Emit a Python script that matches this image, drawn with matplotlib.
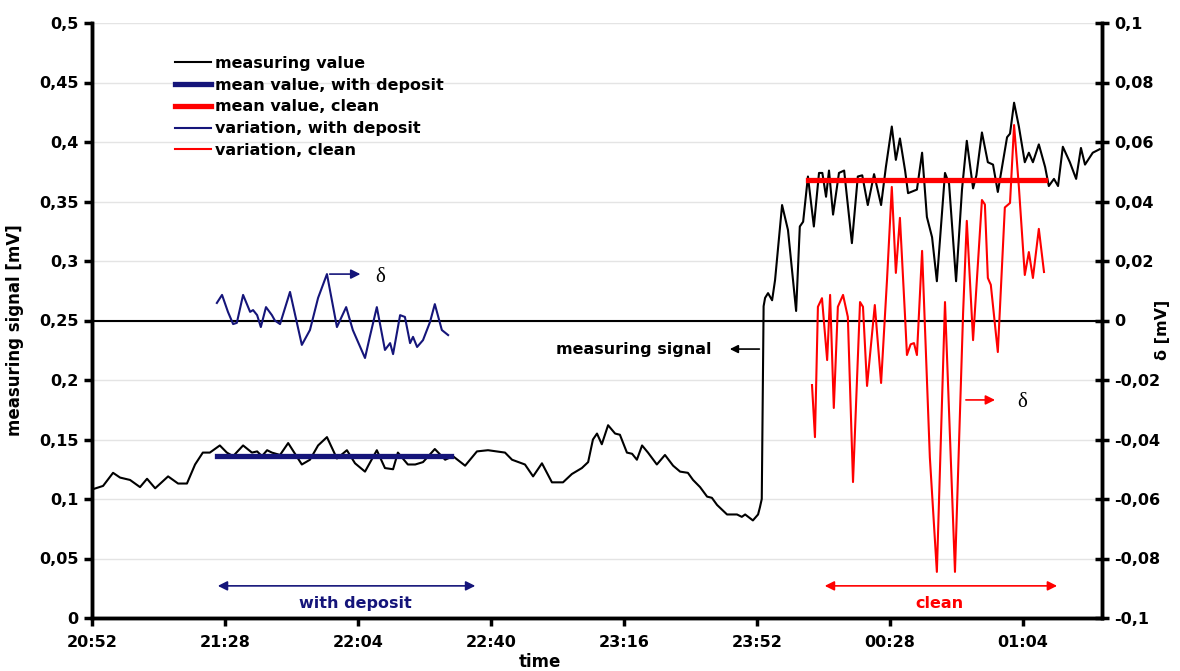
import matplotlib
matplotlib.use("Agg")
import matplotlib.pyplot as plt

plt.rcParams['font.family'] = ['DejaVu Sans']
plt.rcParams['font.weight'] = 'bold'

# === Data (time in minutes after 20:52) ===
t_meas = [0, 3.0, 5.7, 7.6, 10.3, 13.0, 14.9, 17.1, 20.6, 23.3, 25.7, 27.9, 30.0, 31.9,
          34.6, 36.5, 38.2, 40.9, 43.3, 44.7, 46.0, 47.4, 48.7, 50.9, 53.1, 56.8, 59.0,
          61.2, 63.6, 66.3, 69.0, 71.2, 73.9, 77.1, 79.3, 81.5, 82.8, 85.5, 87.5, 89.6,
          92.8, 95.6, 97.7, 101.0, 104.2, 107.2, 111.8, 113.7, 117.2, 119.4, 121.8,
          124.5, 127.5, 129.9, 132.6, 134.3, 135.6, 136.7, 138.0, 139.7, 141.6, 142.9,
          144.8, 146.2, 147.5, 148.9, 150.5, 152.9, 155.1, 157.3, 159.2, 161.3, 162.7,
          164.6, 166.5, 167.8, 169.2, 171.9, 174.6, 175.9, 176.8, 178.9, 180.3, 180.8,
          181.3, 181.8, 182.2, 183.0, 184.1, 184.9, 186.8, 188.4, 190.6, 191.6, 192.5,
          193.8, 195.4, 196.8, 197.7, 198.7, 199.5, 200.6, 202.2, 203.6, 205.7, 207.3,
          208.5, 210.0, 211.7, 213.6, 214.9, 216.5, 217.6, 218.7, 220.1, 220.9, 223.3,
          224.7, 226.0, 227.4, 228.7, 230.9, 232.0, 233.9, 235.5, 236.8, 238.5, 239.4,
          240.9, 242.5, 243.9, 245.2, 247.7, 248.5, 249.6, 250.9, 252.5, 253.6, 254.7,
          256.3, 258.0, 259.0, 260.4, 261.5, 262.8, 264.7, 266.4, 267.7, 268.8, 270.9,
          272.8]
v_meas = [0.108, 0.111, 0.122, 0.118, 0.116, 0.110, 0.117, 0.109, 0.119, 0.113, 0.113,
          0.129, 0.139, 0.139, 0.145, 0.139, 0.136, 0.145, 0.139, 0.140, 0.136, 0.141,
          0.139, 0.137, 0.147, 0.129, 0.133, 0.145, 0.152, 0.134, 0.141, 0.130, 0.123,
          0.141, 0.126, 0.125, 0.139, 0.129, 0.129, 0.131, 0.142, 0.133, 0.136, 0.128,
          0.140, 0.141, 0.139, 0.133, 0.129, 0.119, 0.130, 0.114, 0.114, 0.121, 0.126,
          0.131, 0.150, 0.155, 0.146, 0.162, 0.155, 0.154, 0.139, 0.138, 0.133, 0.145,
          0.139, 0.129, 0.137, 0.128, 0.123, 0.122, 0.116, 0.110, 0.102, 0.101, 0.095,
          0.087, 0.087, 0.085, 0.087, 0.082, 0.087, 0.093, 0.100, 0.262, 0.269, 0.273,
          0.267, 0.284, 0.347, 0.326, 0.258, 0.329, 0.333, 0.371, 0.329, 0.374, 0.374,
          0.354, 0.376, 0.339, 0.374, 0.376, 0.315, 0.371, 0.372, 0.347, 0.373, 0.347,
          0.379, 0.413, 0.385, 0.403, 0.376, 0.357, 0.360, 0.391, 0.337, 0.320, 0.283,
          0.374, 0.365, 0.283, 0.360, 0.401, 0.361, 0.372, 0.408, 0.383, 0.381, 0.358,
          0.404, 0.407, 0.433, 0.413, 0.383, 0.391, 0.383, 0.398, 0.379, 0.363, 0.369,
          0.363, 0.396, 0.383, 0.369, 0.395, 0.381, 0.391, 0.394]

t_var_dep = [33.8, 35.2, 36.8, 38.2, 39.2, 40.9, 42.8, 43.6, 44.7, 45.7, 47.1, 48.7,
             49.5, 50.9, 53.6, 56.8, 59.0, 61.2, 63.6, 66.3, 68.8, 70.6, 73.9, 75.2,
             77.1, 79.3, 80.7, 81.5, 83.4, 84.7, 86.1, 86.9, 88.0, 89.6, 91.5, 92.8,
             94.7, 96.4]
d_var_dep = [0.0059, 0.0086, 0.0029, -0.0012, -0.0008, 0.0086, 0.0029, 0.0035, 0.0018,
             -0.0022, 0.0045, 0.0018, 0.0, -0.0012, 0.0096, -0.0082, -0.0032, 0.0076,
             0.0156, -0.0022, 0.0045, -0.0032, -0.0126, -0.0055, 0.0045, -0.0099,
             -0.0076, -0.0113, 0.0018, 0.0012, -0.0076, -0.0055, -0.0089, -0.0066,
             -0.0005, 0.0055, -0.0032, -0.0049]

t_var_clean = [194.9, 195.7, 196.5, 197.6, 199.0, 199.8, 200.8, 201.9, 203.3, 204.6,
               206.0, 207.9, 208.7, 209.8, 211.9, 213.6, 215.2, 216.5, 217.6, 218.7,
               220.1, 220.6, 221.6, 222.5, 223.3, 224.7, 226.8, 228.7, 230.9, 233.6,
               235.8, 236.8, 238.5, 240.9, 241.7, 242.5, 243.3, 245.2, 247.1, 248.5,
               249.6, 250.9, 252.5, 253.6, 254.7, 256.3, 257.7]
d_var_clean = [-0.0217, -0.0392, 0.0046, 0.0075, -0.0133, 0.0086, -0.0294, 0.0046,
               0.0086, 0.0012, -0.0543, 0.0062, 0.0046, -0.022, 0.0052, -0.021, 0.0136,
               0.0449, 0.016, 0.0345, 0.001, -0.0116, -0.008, -0.0076, -0.0116, 0.0234,
               -0.046, -0.0845, 0.0062, -0.0845, 0.0025, 0.0335, -0.0066, 0.0405, 0.039,
               0.0143, 0.012, -0.0106, 0.038, 0.0395, 0.0657, 0.0449, 0.0153, 0.023,
               0.0143, 0.0308, 0.0163]

mean_dep_span = [33.8, 97.2]
mean_dep = 0.1365
mean_clean_span = [193.8, 258.0]
mean_clean = 0.368

xtick_pos = [0, 36, 72, 108, 144, 180, 216, 252]
xtick_labels = ["20:52", "21:28", "22:04", "22:40", "23:16", "23:52", "00:28", "01:04"]
left_ticks = [0, 0.05, 0.1, 0.15, 0.2, 0.25, 0.3, 0.35, 0.4, 0.45, 0.5]
left_labels = ["0", "0,05", "0,1", "0,15", "0,2", "0,25", "0,3", "0,35", "0,4", "0,45", "0,5"]
right_ticks = [-0.1, -0.08, -0.06, -0.04, -0.02, 0, 0.02, 0.04, 0.06, 0.08, 0.1]
right_labels = ["-0,1", "-0,08", "-0,06", "-0,04", "-0,02", "0", "0,02", "0,04", "0,06", "0,08", "0,1"]

navy = "#15157a"
red = "#ff0000"
fs = 11.5

# === Plotting ===
fig = plt.figure(figsize=(11.8, 6.71), dpi=100)
ax = fig.add_axes([92 / 1180, 53 / 671, 1010 / 1180, 595 / 671])
ax2 = ax.twinx()

for y in left_ticks[1:]:
    ax.axhline(y, color="#e4e4e4", lw=1, zorder=0)
ax.axhline(0.25, color="black", lw=1.5, zorder=1)

l_meas, = ax.plot(t_meas, v_meas, color="black", lw=1.5, zorder=3)
l_mdep, = ax.plot(mean_dep_span, [mean_dep] * 2, color=navy, lw=3.8, zorder=4)
l_mcl, = ax.plot(mean_clean_span, [mean_clean] * 2, color=red, lw=3.8, zorder=4)
l_vdep, = ax2.plot(t_var_dep, d_var_dep, color=navy, lw=1.5)
l_vcl, = ax2.plot(t_var_clean, d_var_clean, color=red, lw=1.5)

ax.set_xlim(0, 273.4)
ax.set_ylim(0, 0.5)
ax2.set_ylim(-0.1, 0.1)

ax.set_xticks(xtick_pos)
ax.set_xticklabels(xtick_labels)
ax.set_yticks(left_ticks)
ax.set_yticklabels(left_labels)
ax2.set_yticks(right_ticks)
ax2.set_yticklabels(right_labels)

for a in (ax, ax2):
    a.spines["top"].set_visible(False)
    for s in ("left", "right", "bottom"):
        a.spines[s].set_linewidth(2.5)
ax.tick_params(axis="both", labelsize=fs, width=2.5, length=6, direction="out")
ax.tick_params(axis="x", pad=6)
ax2.tick_params(axis="y", labelsize=fs, width=2.5, length=10, direction="inout", pad=4)
for lab in ax.get_xticklabels() + ax.get_yticklabels() + ax2.get_yticklabels():
    lab.set_fontweight("bold")

fig.text(15 / 1180, 1 - 330 / 671, "measuring signal [mV]", rotation=90,
         ha="center", va="center", fontsize=12, fontweight="bold")
fig.text(1163 / 1180, 1 - 330 / 671, "δ [mV]", rotation=90,
         ha="center", va="center", fontsize=fs, fontweight="bold")
fig.text(540 / 1180, 1 - 662 / 671, "time", ha="center", va="center",
         fontsize=12, fontweight="bold")

# Legend
ax.legend([l_meas, l_mdep, l_mcl, l_vdep, l_vcl],
          ["measuring value", "mean value, with deposit", "mean value, clean",
           "variation, with deposit", "variation, clean"],
          loc="upper left", bbox_to_anchor=(0.074, 0.958), frameon=False,
          prop={"size": fs, "weight": "bold"}, handlelength=2.3,
          handletextpad=0.25, labelspacing=0.42, borderpad=0)

# Annotations
ax2.annotate("", xy=(73.4, 0.0156), xytext=(63.6, 0.0156),
             arrowprops=dict(arrowstyle="-|>", color=navy, lw=1.2, mutation_scale=14))
ax2.text(78.0, 0.0145, "δ", family="Liberation Serif", fontweight="normal",
         fontsize=15, ha="center", va="center")
ax2.annotate("", xy=(245.2, -0.0267), xytext=(235.8, -0.0267),
             arrowprops=dict(arrowstyle="-|>", color=red, lw=1.2, mutation_scale=14))
ax2.text(251.7, -0.0277, "δ", family="Liberation Serif", fontweight="normal",
         fontsize=15, ha="center", va="center")
ax.annotate("", xy=(171.9, 0.226), xytext=(181.4, 0.226),
            arrowprops=dict(arrowstyle="-|>", color="black", lw=1.2, mutation_scale=12))
ax.text(167.8, 0.226, "measuring signal", ha="right", va="center",
        fontsize=fs, fontweight="bold")

ax.annotate("", xy=(104.5, 0.027), xytext=(33.3, 0.027),
            arrowprops=dict(arrowstyle="<|-|>", color=navy, lw=1.2, mutation_scale=14))
ax.text(71.2, 0.012, "with deposit", color=navy, ha="center", va="center",
        fontsize=fs, fontweight="bold")
ax.annotate("", xy=(262.0, 0.027), xytext=(197.6, 0.027),
            arrowprops=dict(arrowstyle="<|-|>", color=red, lw=1.2, mutation_scale=14))
ax.text(229.5, 0.012, "clean", color=red, ha="center", va="center",
        fontsize=fs, fontweight="bold")

fig.savefig("out.png", dpi=100)
